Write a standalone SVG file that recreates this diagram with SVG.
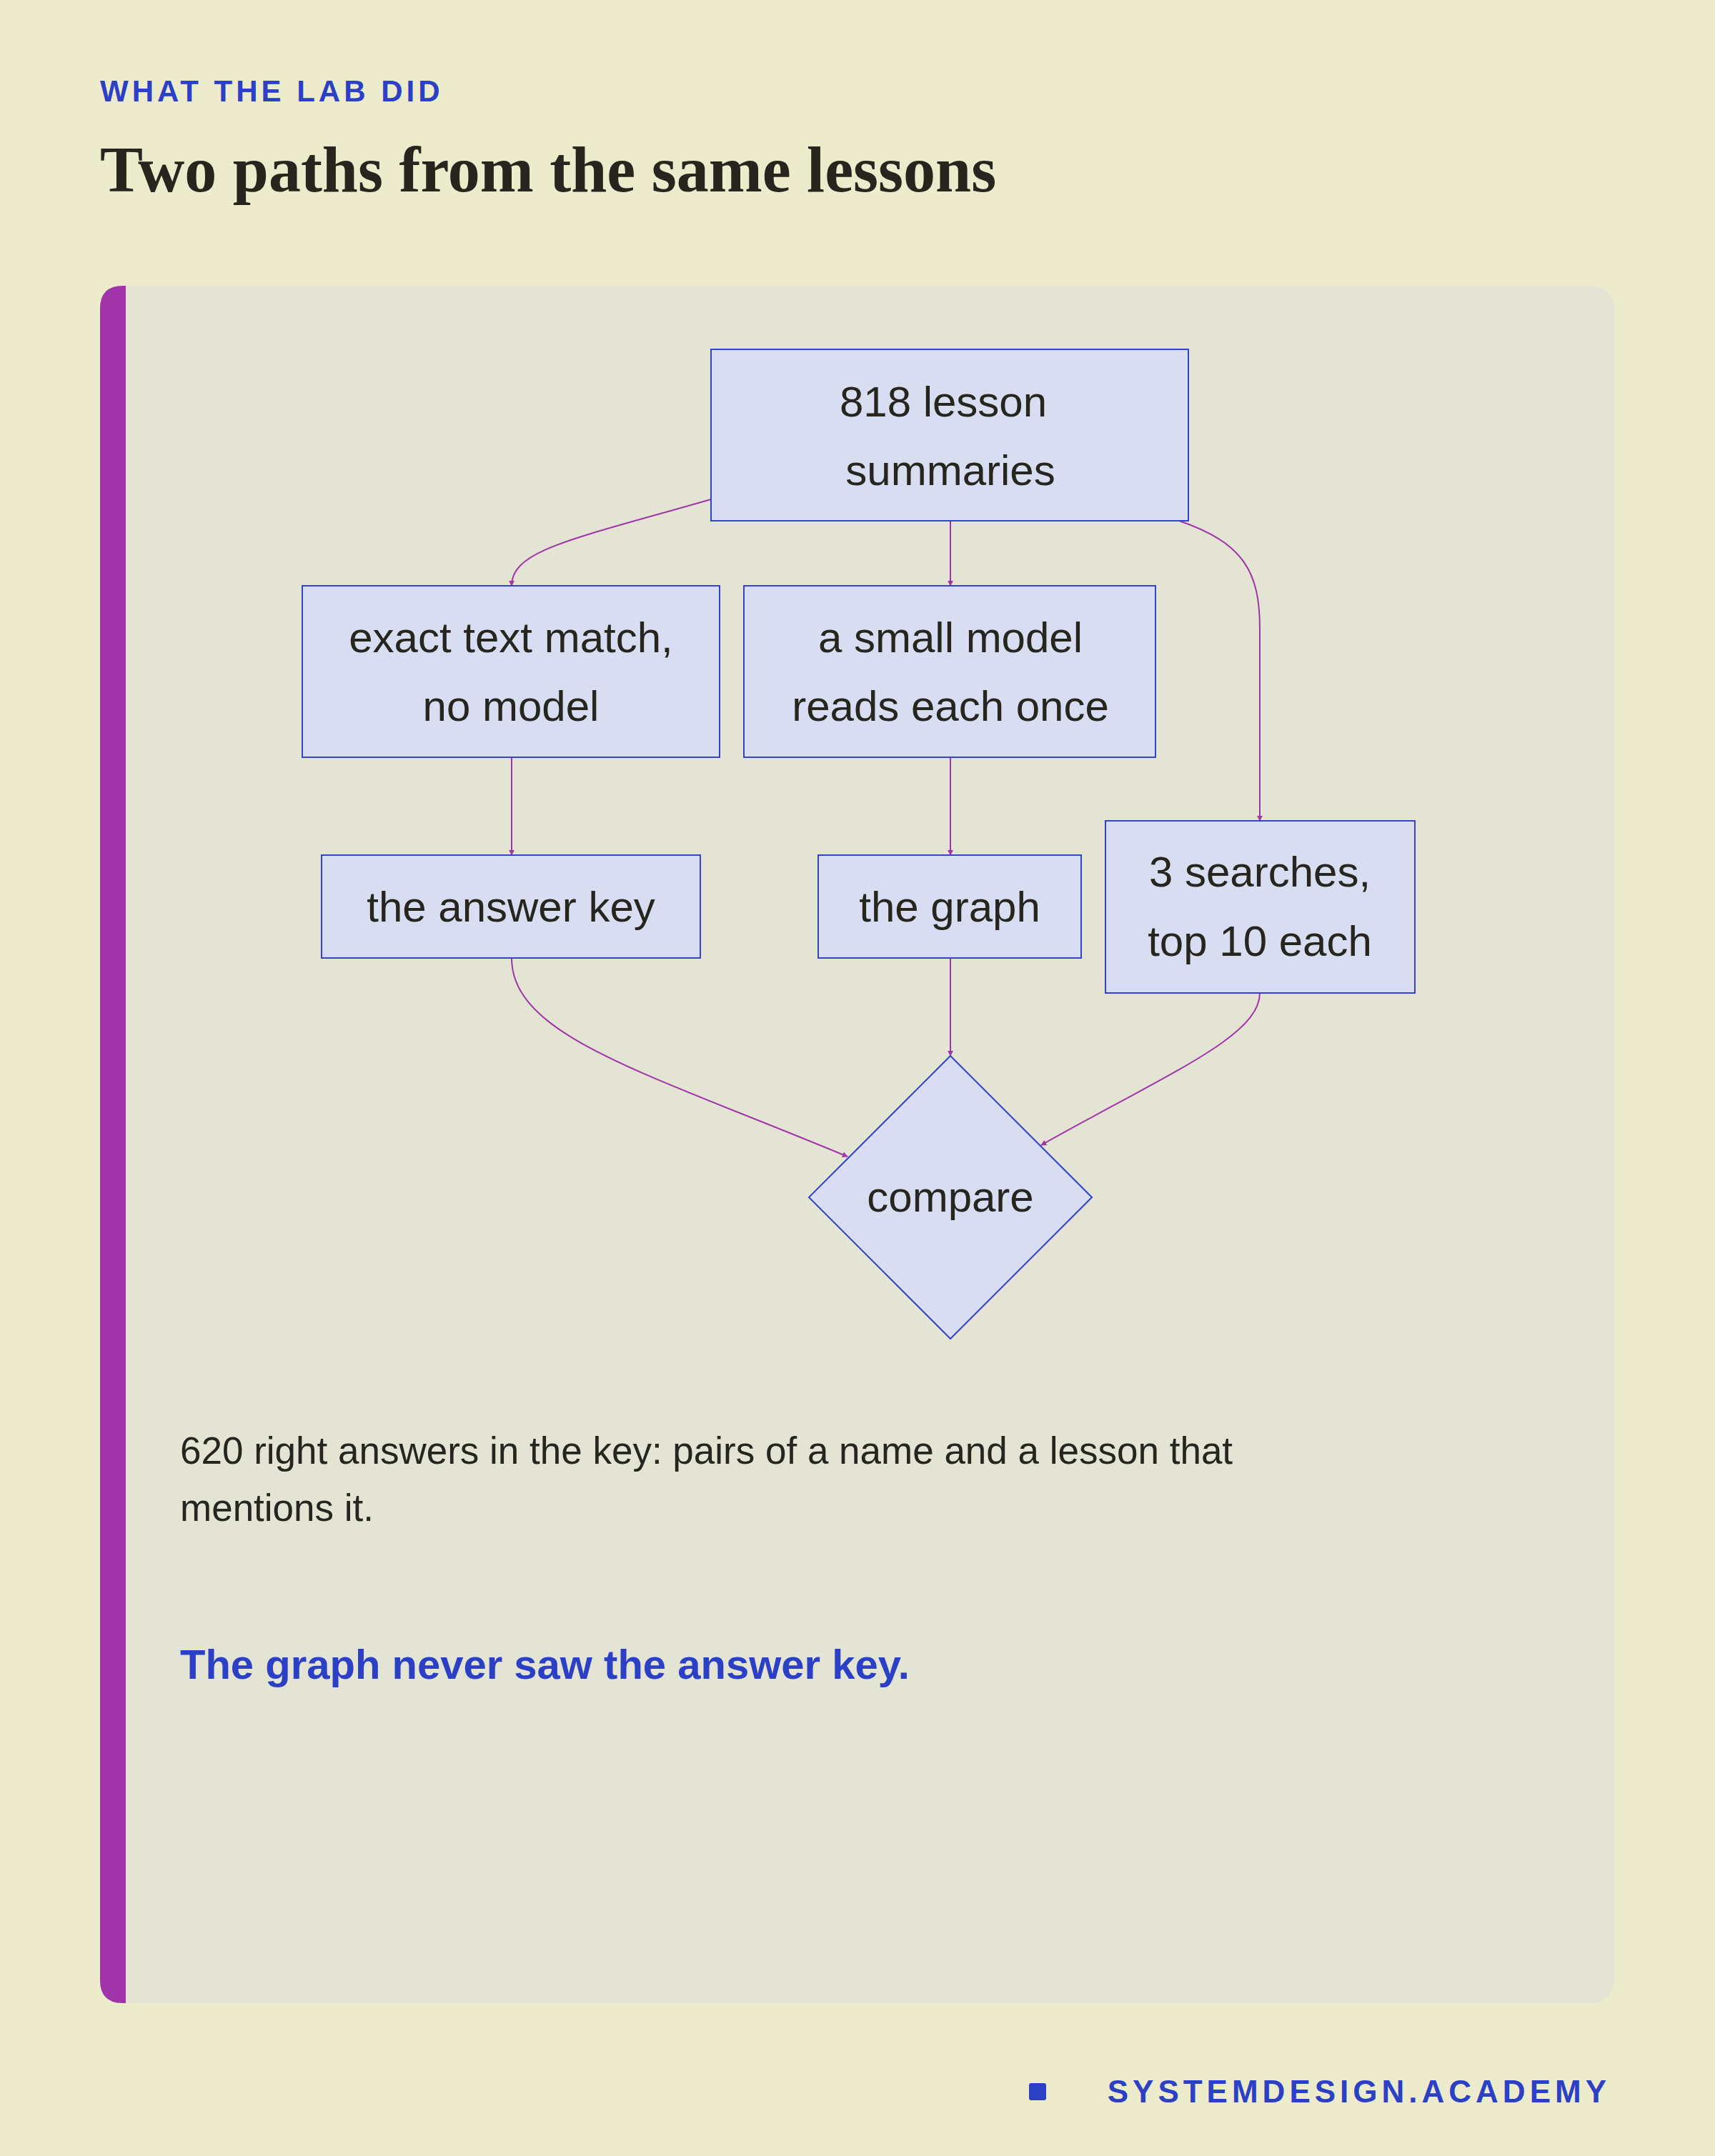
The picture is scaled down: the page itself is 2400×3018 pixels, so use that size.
<svg xmlns="http://www.w3.org/2000/svg" width="2400" height="3018" viewBox="0 0 2400 3018">
<style>
.node{fill:#d9ddf1;stroke:#3344c8;stroke-width:2}
.lbl{font-family:"Liberation Sans",Arial,sans-serif;font-size:60px;fill:#26261f;text-anchor:middle}
.edge{fill:none;stroke:#a234a9;stroke-width:2}
</style>
<defs>
<marker id="ar" viewBox="0 0 10 10" refX="9" refY="5" markerWidth="8" markerHeight="8" markerUnits="userSpaceOnUse" orient="auto"><path d="M0,0L10,5L0,10z" fill="#a234a9"/></marker>
</defs>
<rect width="2400" height="3018" fill="#ececcc"/>
<text x="140" y="142" font-family="Liberation Sans,Arial,sans-serif" font-weight="bold" font-size="42" letter-spacing="5" fill="#2b40c4">WHAT THE LAB DID</text>
<text x="140" y="268" font-family="Liberation Serif,Georgia,serif" font-weight="bold" font-size="90" fill="#26261f">Two paths from the same lessons</text>
<rect x="140" y="400" width="2119" height="2404" rx="32" fill="#e3e4d3"/>
<path d="M176,400 L172,400 Q140,400 140,432 L140,2772 Q140,2804 172,2804 L176,2804 Z" fill="#a234a9"/>
<g id="connectors">
<path class="edge" marker-end="url(#ar)" d="M995,699 C800,755 716,770 716,820"/>
<path class="edge" marker-end="url(#ar)" d="M1330,729 L1330,820"/>
<path class="edge" marker-end="url(#ar)" d="M1650,729 C1740,760 1763,800 1763,880 L1763,1149"/>
<path class="edge" marker-end="url(#ar)" d="M716,1060 L716,1197"/>
<path class="edge" marker-end="url(#ar)" d="M1330,1060 L1330,1197"/>
<path class="edge" marker-end="url(#ar)" d="M716,1341 C716,1450 900,1500 1186,1619"/>
<path class="edge" marker-end="url(#ar)" d="M1330,1341 L1330,1478"/>
<path class="edge" marker-end="url(#ar)" d="M1763,1390 C1763,1450 1640,1500 1457,1603"/>
</g>
<g id="n1"><rect class="node" x="995" y="489" width="668" height="240"/><text class="lbl" x="1320" y="583">818 lesson</text><text class="lbl" x="1330" y="679">summaries</text></g>
<g id="n2"><rect class="node" x="423" y="820" width="584" height="240"/><text class="lbl" x="715" y="913">exact text match,</text><text class="lbl" x="715" y="1009">no model</text></g>
<g id="n3"><rect class="node" x="1041" y="820" width="576" height="240"/><text class="lbl" x="1330" y="913">a small model</text><text class="lbl" x="1330" y="1009">reads each once</text></g>
<g id="n4"><rect class="node" x="450" y="1197" width="530" height="144"/><text class="lbl" x="715" y="1290">the answer key</text></g>
<g id="n5"><rect class="node" x="1145" y="1197" width="368" height="144"/><text class="lbl" x="1329" y="1290">the graph</text></g>
<g id="n6"><rect class="node" x="1547" y="1149" width="433" height="241"/><text class="lbl" x="1763" y="1241">3 searches,</text><text class="lbl" x="1763" y="1338">top 10 each</text></g>
<g id="n7"><path class="node" d="M1330,1478 L1528,1676 L1330,1874 L1132,1676 Z"/><text class="lbl" x="1330" y="1696">compare</text></g>
<text x="252" y="2049" font-family="Liberation Sans,Arial,sans-serif" font-size="53" fill="#26261f">620 right answers in the key: pairs of a name and a lesson that</text>
<text x="252" y="2129" font-family="Liberation Sans,Arial,sans-serif" font-size="53" fill="#26261f">mentions it.</text>
<text x="252" y="2350" font-family="Liberation Sans,Arial,sans-serif" font-weight="bold" font-size="58" fill="#2b40c4">The graph never saw the answer key.</text>
<rect x="1440" y="2916" width="24" height="24" rx="3" fill="#2b40c4"/>
<text x="2254" y="2943" text-anchor="end" font-family="Liberation Sans,Arial,sans-serif" font-weight="bold" font-size="44" letter-spacing="6" fill="#2b40c4">SYSTEMDESIGN.ACADEMY</text>
</svg>
